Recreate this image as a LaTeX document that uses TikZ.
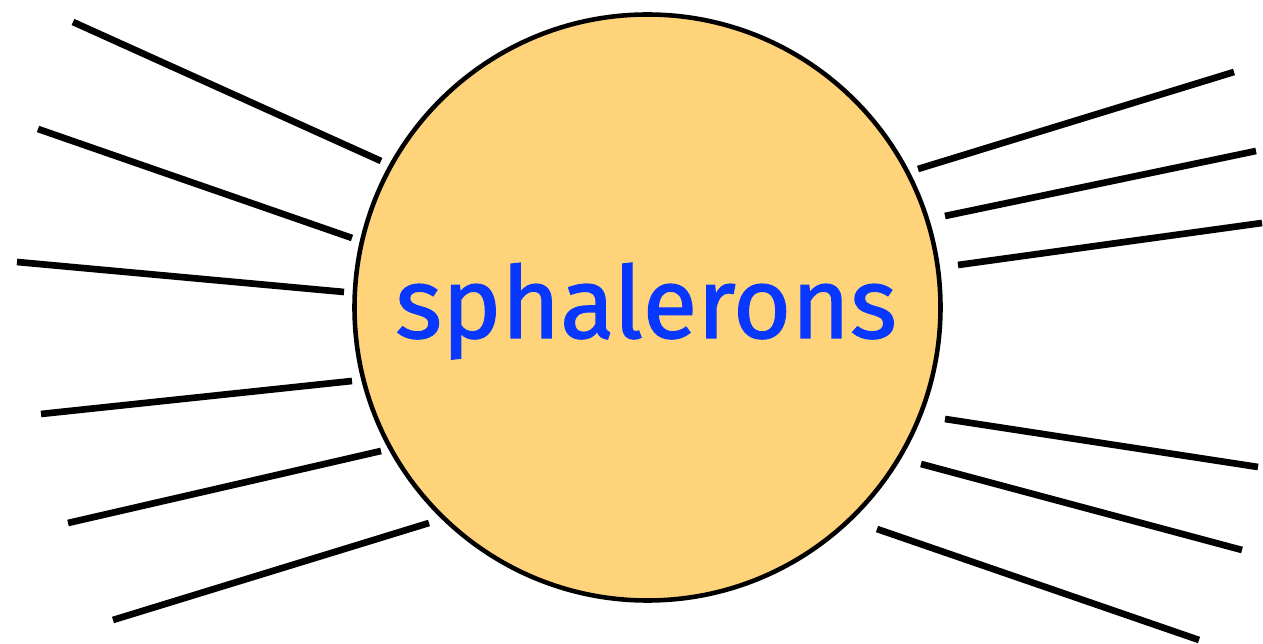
\documentclass[tikz,border=0pt]{standalone}
\usepackage{fontspec}
\setsansfont{Fira Sans}
\newfontfamily\wordfont[FakeBold=1.2]{Fira Sans}
\definecolor{sunfill}{RGB}{254,211,122}
\definecolor{wordblue}{RGB}{8,56,255}

\begin{document}
\begin{tikzpicture}[x=0.1mm,y=-0.1mm,ray/.style={line width=1.9pt},
  sunbody/.style={circle,draw,fill=sunfill,line width=1.3pt,minimum size=58.6mm,inner sep=0pt},
  word/.style={text=wordblue,font=\wordfont\fontsize{28.5}{34}\selectfont}]
  \useasboundingbox (0,0) rectangle (1263,644);
  % the ball
  \node[sunbody] (sun) at (647.5,307.5) {};
  \node[word,anchor=base] (label) at (646,338) {sphalerons};
  % rays, left side
  \foreach \ax/\ay/\bx/\by in {73/22/381/161, 38/129/352/238, 17/262/344/292,
                               41/414/352/381, 68/523/381/451, 113/620/429/523}
    \draw[ray] (\ax,\ay) -- (\bx,\by);
  % rays, right side
  \foreach \ax/\ay/\bx/\by in {918/169/1234/72, 945/216/1256/151, 958/265/1262/223,
                               945/419/1258/467, 921/464/1242/550, 877/529/1199/640}
    \draw[ray] (\ax,\ay) -- (\bx,\by);
\end{tikzpicture}
\end{document}
